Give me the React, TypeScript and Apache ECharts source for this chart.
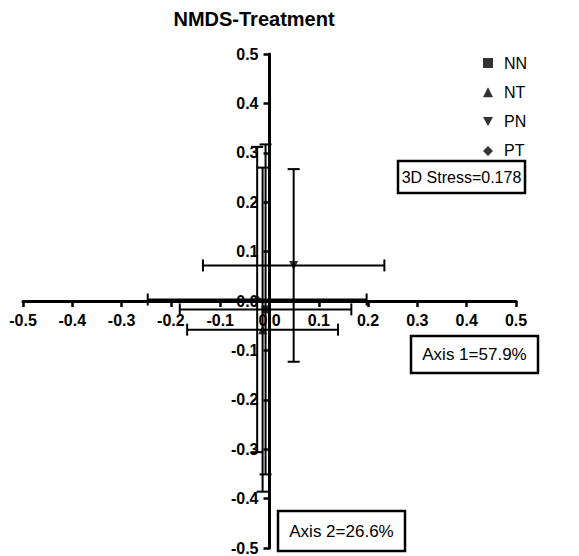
import React, { useEffect, useRef } from "react";
import * as echarts from "echarts";

// NMDS group centroids with their standard errors on each axis
const groups = ["NN", "NT", "PN", "PT"];
const axis1Mean = [-0.008, -0.014, 0.049, -0.025];
const axis2Mean = [-0.017, -0.058, 0.072, 0.003];
const axis1Err = [0.174, 0.153, 0.184, 0.222];
const axis2Err = [0.334, 0.328, 0.195, 0.309];
const symbols = ["rect", "triangle", "path://M0,0L10,0L5,9Z", "diamond"];
const symbolSizes = [8, 9, 9, 9];

const axisMin = -0.5;
const axisMax = 0.5;
const axisStep = 0.1;

const stressText = "3D Stress=0.178";
const axis1Text = "Axis 1=57.9%";
const axis2Text = "Axis 2=26.6%";

const FONT = '"Liberation Sans", Arial, sans-serif';

const GRID = { left: 23, right: 63, top: 54, bottom: 8 };
const W = 579;
const H = 556;

function fmt(v: number) {
  if (Math.abs(v) < 1e-9) return "0.0";
  return v.toFixed(1);
}

function boxedText(x: number, y: number, w: number, h: number, text: string, size: number) {
  return {
    type: "group",
    x,
    y,
    children: [
      {
        type: "rect",
        shape: { x: 0, y: 0, width: w, height: h },
        style: { fill: "#fff", stroke: "#000", lineWidth: 2.5 },
      },
      {
        type: "text",
        x: w / 2,
        y: h / 2,
        style: {
          text,
          fill: "#000",
          font: `${size}px ${FONT}`,
          align: "center",
          verticalAlign: "middle",
        },
      },
    ],
  };
}

export default function App() {
  const ref = useRef<HTMLDivElement>(null);

  useEffect(() => {
    if (!ref.current) return;
    const chart = echarts.init(ref.current, undefined, { renderer: "svg" });

    const errData = groups.map((_, i) => [axis1Mean[i], axis2Mean[i], axis1Err[i], axis2Err[i]]);

    // the axes cross at the origin, so each one is shifted into the middle of the grid
    const plotW = W - GRID.left - GRID.right;
    const plotH = H - GRID.top - GRID.bottom;

    const axisCommon = {
      type: "value",
      min: axisMin,
      max: axisMax,
      interval: axisStep,
      splitLine: { show: false },
      axisLine: { onZero: false, lineStyle: { color: "#000", width: 3 } },
      axisTick: { length: 6, lineStyle: { color: "#000", width: 2.5 } },
      axisLabel: {
        color: "#000",
        fontFamily: FONT,
        fontWeight: "bold",
        fontSize: 16,
        formatter: fmt,
      },
    };

    const option: any = {
      animation: false,
      backgroundColor: "#fff",
      title: {
        text: "NMDS-Treatment",
        left: 249,
        top: 4,
        textAlign: "center",
        textStyle: { fontFamily: FONT, fontWeight: "bold", fontSize: 20, color: "#000" },
      },
      grid: { ...GRID, containLabel: false, outerBoundsMode: "none" },
      xAxis: {
        ...axisCommon,
        position: "bottom",
        offset: -plotH / 2,
        axisLabel: { ...axisCommon.axisLabel, margin: 11 },
      },
      yAxis: {
        ...axisCommon,
        position: "left",
        offset: -plotW / 2,
        axisLabel: { ...axisCommon.axisLabel, margin: 11 },
      },
      legend: {
        data: groups,
        orient: "vertical",
        left: 478,
        top: 49,
        itemWidth: 10,
        itemHeight: 10,
        itemGap: 11.3,
        textStyle: {
          fontFamily: FONT,
          fontSize: 16,
          color: "#000",
          lineHeight: 18,
          padding: [0, 0, 0, 6],
        },
      },
      series: [
        {
          type: "custom",
          name: "errors",
          z: 2,
          data: errData,
          renderItem: (params: any, api: any) => {
            const x = api.value(0);
            const y = api.value(1);
            const ex = api.value(2);
            const ey = api.value(3);
            const left = api.coord([x - ex, y]);
            const right = api.coord([x + ex, y]);
            const top = api.coord([x, y + ey]);
            const bottom = api.coord([x, y - ey]);
            const cap = 6;
            const style = { stroke: "#000", lineWidth: 2 };
            const seg = (x1: number, y1: number, x2: number, y2: number) => ({
              type: "line",
              shape: { x1, y1, x2, y2 },
              style,
            });
            return {
              type: "group",
              children: [
                seg(left[0], left[1], right[0], right[1]),
                seg(left[0], left[1] - cap, left[0], left[1] + cap),
                seg(right[0], right[1] - cap, right[0], right[1] + cap),
                seg(top[0], top[1], bottom[0], bottom[1]),
                seg(top[0] - cap, top[1], top[0] + cap, top[1]),
                seg(bottom[0] - cap, bottom[1], bottom[0] + cap, bottom[1]),
              ],
            };
          },
        },
        ...groups.map((g, i) => ({
          type: "scatter",
          name: g,
          z: 3,
          symbol: symbols[i],
          symbolSize: symbolSizes[i],
          itemStyle: { color: "#000" },
          data: [[axis1Mean[i], axis2Mean[i]]],
        })),
      ],
      graphic: [
        boxedText(398, 161, 127, 32, stressText, 16),
        boxedText(411, 336, 127, 37, axis1Text, 17),
        boxedText(278, 511, 127, 40, axis2Text, 17),
      ],
    };

    chart.setOption(option);
    return () => chart.dispose();
  }, []);

  return (
    <div
      ref={ref}
      style={{ position: "absolute", left: 0, top: 0, width: W, height: H }}
    />
  );
}
